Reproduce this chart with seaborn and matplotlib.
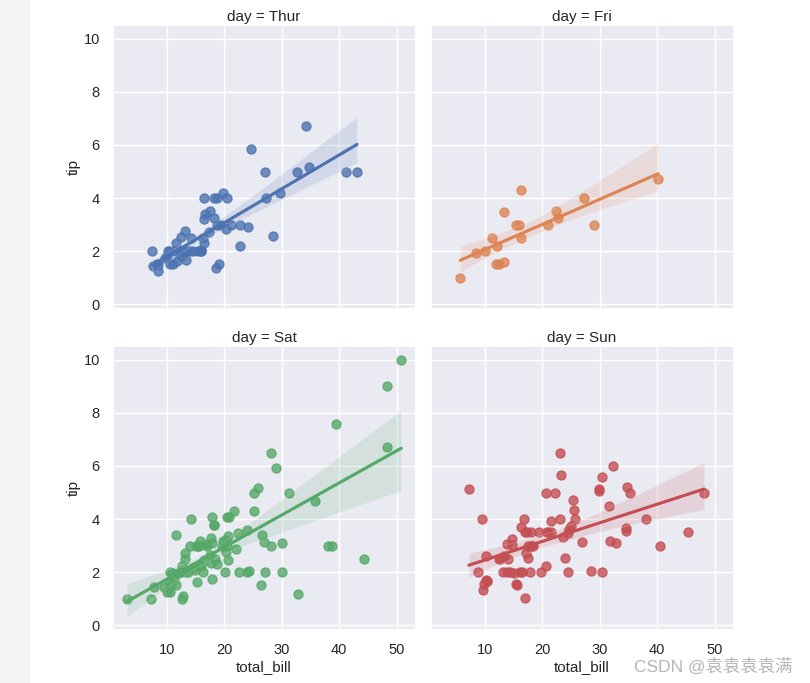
import matplotlib
matplotlib.use("Agg")
import matplotlib.pyplot as plt
import seaborn as sns
import numpy as np
import pandas as pd

# tips data, split by day
days = ["Thur", "Fri", "Sat", "Sun"]

thur_bill = [27.2, 22.76, 17.29, 19.44, 16.66, 10.07, 32.68, 15.98, 34.83, 13.03, 18.28, 24.71, 21.16,
             10.65, 12.43, 24.08, 11.69, 13.42, 14.26, 15.95, 12.48, 29.8, 8.52, 14.52, 11.38, 22.82,
             19.08, 20.27, 11.17, 12.26, 18.26, 8.51, 10.33, 14.15, 16.0, 13.16, 17.47, 34.3, 41.19,
             27.05, 16.43, 8.35, 18.64, 11.87, 9.78, 7.51, 19.81, 28.44, 15.48, 16.58, 7.56, 10.34,
             43.11, 13.0, 13.51, 18.71, 12.74, 13.0, 16.4, 20.53, 16.47, 18.78]
thur_tip = [4.0, 3.0, 2.71, 3.0, 3.4, 1.83, 5.0, 2.03, 5.17, 2.0, 4.0, 5.85, 3.0,
            1.5, 1.8, 2.92, 2.31, 1.68, 2.5, 2.0, 2.52, 4.2, 1.48, 2.0, 2.0, 2.18,
            1.5, 2.83, 1.5, 2.0, 3.25, 1.25, 2.0, 2.0, 2.0, 2.75, 3.5, 6.7, 5.0,
            5.0, 2.3, 1.5, 1.36, 1.63, 1.73, 2.0, 4.19, 2.56, 2.02, 4.0, 1.44, 2.0,
            5.0, 2.0, 2.0, 4.0, 2.01, 2.0, 2.5, 4.0, 3.23, 3.0]

fri_bill = [28.97, 22.49, 5.75, 16.32, 22.75, 40.17, 27.28, 12.03, 21.01, 12.46, 11.35, 15.38,
            12.16, 13.42, 8.58, 15.98, 13.42, 16.27, 10.09]
fri_tip = [3.0, 3.5, 1.0, 4.3, 3.25, 4.73, 4.0, 1.5, 3.0, 1.5, 2.5, 3.0,
           2.2, 3.48, 1.92, 3.0, 1.58, 2.5, 2.0]

sat_bill = [20.65, 17.92, 20.29, 15.77, 39.42, 19.82, 17.81, 13.37, 12.69, 21.7, 19.65, 9.55,
            18.35, 15.06, 20.69, 17.78, 24.06, 16.31, 16.93, 18.69, 31.27, 16.04,
            38.01, 26.41, 11.24, 48.27, 20.29, 13.81, 11.02, 18.29, 17.59, 20.08, 16.45, 3.07,
            20.23, 15.01, 12.02, 17.07, 26.86, 25.28, 14.73, 10.51, 17.92,
            44.3, 22.42, 20.92, 15.36, 20.49, 25.21, 18.24, 14.31, 14.0, 7.25,
            10.59, 10.63, 50.81, 15.81,
            26.59, 38.73, 24.27, 12.76, 30.06, 25.89, 48.33, 13.27, 28.17, 12.9, 28.15, 11.59,
            7.74, 30.14,
            20.45, 13.28, 22.12, 24.01, 15.69, 11.61, 10.77, 15.53, 10.07, 12.6, 32.83, 35.83,
            29.03, 27.18, 22.67, 17.82]
sat_tip = [3.35, 4.08, 2.75, 2.23, 7.58, 3.18, 2.34, 2.0, 2.0, 4.3, 3.0, 1.45,
           2.5, 3.0, 2.45, 3.27, 3.6, 2.0, 3.07, 2.31, 5.0, 2.24,
           3.0, 1.5, 1.76, 6.73, 3.21, 2.0, 1.98, 3.76, 2.64, 3.15, 2.47, 1.0,
           2.01, 2.09, 1.97, 3.0, 3.14, 5.0, 2.2, 1.25, 3.08,
           2.5, 3.48, 4.08, 1.64, 4.06, 4.29, 3.76, 4.0, 3.0, 1.0,
           1.61, 2.0, 10.0, 3.16,
           3.41, 3.0, 2.03, 2.23, 2.0, 5.16, 9.0, 2.5, 6.5, 1.1, 3.0, 1.5,
           1.44, 3.09,
           3.0, 2.72, 2.88, 2.0, 3.0, 3.39, 1.47, 3.0, 1.25, 1.0, 1.17, 4.67,
           5.92, 2.0, 2.0, 1.75]

sun_bill = [16.99, 10.34, 21.01, 23.68, 24.59, 25.29, 8.77, 26.88, 15.04, 14.78, 10.27, 35.26,
            15.42, 18.43, 14.83, 21.58, 10.33, 16.29, 16.97,
            17.46, 13.94, 9.68, 30.4, 18.29, 22.23, 32.4, 28.55, 18.04, 12.54, 10.29, 34.81,
            9.94, 25.56, 19.49,
            38.07, 23.95, 25.71, 17.31, 29.93,
            14.07, 13.13, 17.26, 24.55, 19.77, 29.85, 48.17, 25.0, 13.39, 16.49, 21.5, 12.66,
            16.21, 13.81, 17.51, 24.52, 20.76, 31.71,
            7.25, 31.85, 16.82, 32.9, 17.89, 14.48, 9.6, 34.63, 34.65, 23.33, 45.35, 23.17,
            40.55, 20.69, 20.9, 30.46, 18.15, 23.1, 15.69]
sun_tip = [1.01, 1.66, 3.5, 3.31, 3.61, 4.71, 2.0, 3.12, 1.96, 3.23, 1.71, 5.0,
           1.57, 3.0, 3.02, 3.92, 1.67, 3.71, 3.5,
           2.54, 3.06, 1.32, 5.6, 3.0, 5.0, 6.0, 2.05, 3.0, 2.5, 2.6, 5.2,
           1.56, 4.34, 3.51,
           4.0, 2.55, 4.0, 3.5, 5.07,
           2.5, 2.0, 2.74, 2.0, 2.0, 5.14, 5.0, 3.75, 2.61, 2.0, 3.5, 2.5,
           2.0, 2.0, 3.0, 3.48, 2.24, 4.5,
           5.15, 3.18, 4.0, 3.11, 2.0, 2.0, 4.0, 3.55, 3.68, 5.65, 3.5, 6.5,
           3.0, 5.0, 3.5, 2.0, 3.5, 4.0, 1.5]

bills = [thur_bill, fri_bill, sat_bill, sun_bill]
tips_ = [thur_tip, fri_tip, sat_tip, sun_tip]
tips = pd.concat([pd.DataFrame({"total_bill": b, "tip": t, "day": d})
                  for d, b, t in zip(days, bills, tips_)], ignore_index=True)
tips["day"] = pd.Categorical(tips["day"], categories=days)

sns.set_theme(style="darkgrid")
plt.rcParams["font.family"] = ["Liberation Sans", "Noto Sans CJK SC", "DejaVu Sans"]
plt.rcParams["xtick.labelsize"] = 10.5
plt.rcParams["ytick.labelsize"] = 10.5
plt.rcParams["axes.labelsize"] = 11
plt.rcParams["axes.titlesize"] = 11
plt.rcParams["axes.titlepad"] = 3.5
plt.rcParams["axes.labelpad"] = 2

g = sns.lmplot(data=tips, x="total_bill", y="tip", col="day", hue="day",
               col_wrap=2, height=3, seed=0, scatter_kws={"s": 42})
fig = g.figure
fig.set_size_inches(8.1, 6.83)
fig.subplots_adjust(left=0.1395, right=0.905, top=0.962, bottom=0.0776,
                    wspace=0.053, hspace=0.134)

# grey strip on the left side of the screenshot
fig.patches.append(plt.Rectangle((0, 0), 29 / 810, 1, transform=fig.transFigure,
                                 color="#f4f4f4", zorder=-1))
fig.text(0.979, 0.024, "CSDN @袁袁袁袁满", ha="right", va="center",
         fontsize=12.5, color="#b5b5b5")

fig.savefig("out.png", dpi=100)
